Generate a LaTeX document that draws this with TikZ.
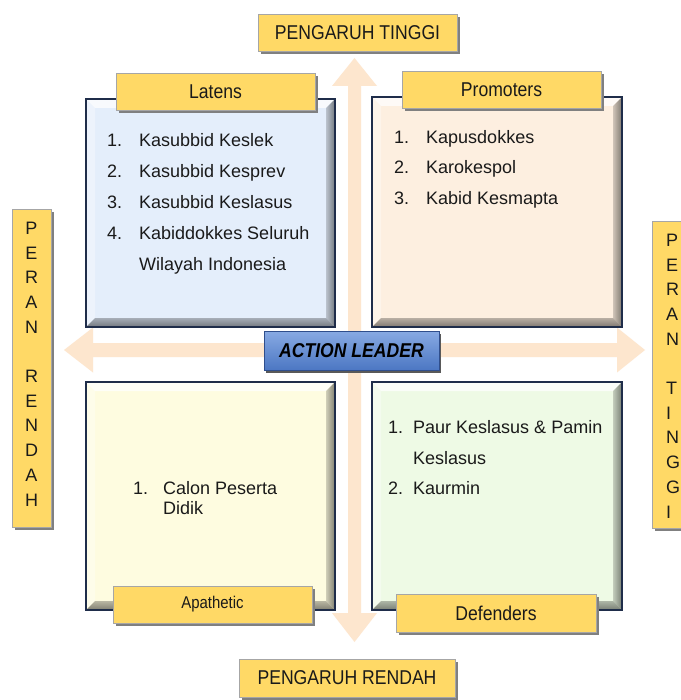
\documentclass[tikz,border=0pt]{standalone}
\usepackage{fontspec}
\setmainfont{Liberation Sans}
\newfontfamily\narrowfont{Liberation Sans}[FakeStretch=0.88]
\usetikzlibrary{shadows}
\definecolor{arrowc}{HTML}{FDE6CE}
\definecolor{lblyellow}{HTML}{FFD966}
\definecolor{lblborder}{HTML}{A6A6A6}
\definecolor{navy}{HTML}{1F2D4A}
\definecolor{qblue}{HTML}{E4EEFB}
\definecolor{qpeach}{HTML}{FDEFE0}
\definecolor{qyellow}{HTML}{FEFCE0}
\definecolor{qgreen}{HTML}{EEFAE5}
\definecolor{altop}{HTML}{88AAE3}
\definecolor{albot}{HTML}{4C77C3}
\definecolor{alborder}{HTML}{2F4E8C}
\definecolor{txt}{HTML}{1A1A1A}
\newcommand\bv{9}
\newcommand\quadbox[6]{%
  \node[quad, fill=#6, minimum width={#4-#2}, minimum height={#5-#3}] (#1) at ({(#2+#4)/2},{(#3+#5)/2}) {};
  \fill[white, opacity=.75] (#2,#3) -- (#4,#3) -- ({#4-\bv},{#3+\bv}) -- ({#2+\bv},{#3+\bv}) -- cycle;
  \fill[white, opacity=.35] (#2,#3) -- ({#2+\bv},{#3+\bv}) -- ({#2+\bv},{#5-\bv}) -- (#2,#5) -- cycle;
  \shade[left color=#6!80!black, right color=#6!45!black, opacity=.9] (#4,#3) -- (#4,#5) -- ({#4-\bv},{#5-\bv}) -- ({#4-\bv},{#3+\bv}) -- cycle;
  \shade[top color=#6!70!black, bottom color=#6!45!black, opacity=.9] (#2,#5) -- (#4,#5) -- ({#4-\bv},{#5-\bv}) -- ({#2+\bv},{#5-\bv}) -- cycle;
  \draw[navy, line width=1.4pt] (#1.north west) rectangle (#1.south east);
}
\tikzset{
  quad/.style={rectangle, inner sep=0, outer sep=0},
  lbl/.style={rectangle, draw=lblborder, fill=lblyellow, line width=0.8pt, inner sep=0,
    text=txt, font=\narrowfont\fontsize{20}{24}\selectfont,
    drop shadow={shadow xshift=3pt, shadow yshift=-3pt, fill=black!50, opacity=1}},
  itm/.style={anchor=base west, inner sep=0, text=txt, font=\fontsize{18}{22}\selectfont},
  vert/.style={inner sep=0, text=txt, font=\fontsize{18}{24.7}\selectfont},
  bigarrow/.style={fill=arrowc},
}
\begin{document}
\begin{tikzpicture}[x=1pt, y=-1pt]
\useasboundingbox (0,0) rectangle (680,700);
\fill[white] (0,0) rectangle (680,700);
% cross arrows
\fill[bigarrow] (354.5,58) -- (377,86) -- (361,86) -- (361,613) -- (377,613) -- (354.5,642)
  -- (332,613) -- (348,613) -- (348,86) -- (332,86) -- cycle;
\fill[bigarrow] (64,350) -- (93,327.5) -- (93,343) -- (617,343) -- (617,327.5) -- (645,350)
  -- (617,372.5) -- (617,357) -- (93,357) -- (93,372.5) -- cycle;
% quadrants
\quadbox{latq}{86}{99}{335}{327}{qblue}
\quadbox{proq}{372}{97}{622}{327}{qpeach}
\quadbox{apaq}{86}{382}{335}{610}{qyellow}
\quadbox{defq}{372}{382}{622}{610}{qgreen}
% axis labels
\node[lbl, minimum width=199pt, minimum height=37pt] (pt) at (357.5,32.5) {PENGARUH TINGGI};
\node[lbl, minimum width=216pt, minimum height=38pt] (pr) at (347,678) {PENGARUH RENDAH};
\node[lbl, minimum width=39pt, minimum height=318pt] (prr) at (31.5,368) {};
\node[vert, align=center] (prrt) at (31.5,364) {P\\E\\R\\A\\N\\~\\R\\E\\N\\D\\A\\H};
\node[lbl, minimum width=42pt, minimum height=307pt] (prt) at (673,374.5) {};
\node[vert, align=left, anchor=west] (prtt) at (666,376) {P\\E\\R\\A\\N\\~\\T\\I\\N\\G\\G\\I};
% quadrant labels
\node[lbl, minimum width=199pt, minimum height=37pt] (latl) at (215.5,91.5) {Latens};
\node[lbl, minimum width=199pt, minimum height=37pt] (prol) at (501.5,89.5) {Promoters};
\node[lbl, minimum width=199pt, minimum height=37pt, font=\narrowfont\fontsize{17}{20}\selectfont] (apal) at (212.5,604.5) {Apathetic};
\node[lbl, minimum width=200pt, minimum height=38pt] (defl) at (496,613) {Defenders};
% Latens items
\node[itm] (l1n) at (107,146.5) {1.};
\node[itm] (l1) at (139,146.5) {Kasubbid Keslek};
\node[itm] (l2n) at (107,178) {2.};
\node[itm] (l2) at (139,178) {Kasubbid Kesprev};
\node[itm] (l3n) at (107,208.5) {3.};
\node[itm] (l3) at (139,208.5) {Kasubbid Keslasus};
\node[itm] (l4n) at (107,239.5) {4.};
\node[itm] (l4) at (139,239.5) {Kabiddokkes Seluruh};
\node[itm] (l4b) at (139,270.5) {Wilayah Indonesia};
% Promoters items
\node[itm] (p1n) at (394,143.5) {1.};
\node[itm] (p1) at (426,143.5) {Kapusdokkes};
\node[itm] (p2n) at (394,173.5) {2.};
\node[itm] (p2) at (426,173.5) {Karokespol};
\node[itm] (p3n) at (394,204.5) {3.};
\node[itm] (p3) at (426,204.5) {Kabid Kesmapta};
% Apathetic items
\node[itm] (a1n) at (133,494.5) {1.};
\node[itm] (a1) at (163,494.5) {Calon Peserta};
\node[itm] (a1b) at (163,514.5) {Didik};
% Defenders items
\node[itm] (d1n) at (388,433.5) {1.};
\node[itm] (d1) at (413,433.5) {Paur Keslasus \& Pamin};
\node[itm] (d1b) at (413,464.5) {Keslasus};
\node[itm] (d2n) at (388,494.5) {2.};
\node[itm] (d2) at (413,494.5) {Kaurmin};
% action leader
\node[rectangle, draw=alborder, line width=1pt, top color=altop, bottom color=albot,
  minimum width=175pt, minimum height=39pt, inner sep=0, text=black,
  font=\narrowfont\bfseries\itshape\fontsize{20}{24}\selectfont,
  drop shadow={shadow xshift=2pt, shadow yshift=-3pt, fill=black!65, opacity=1}] (al) at (351.5,350.5) {ACTION LEADER};
\end{tikzpicture}
\end{document}
